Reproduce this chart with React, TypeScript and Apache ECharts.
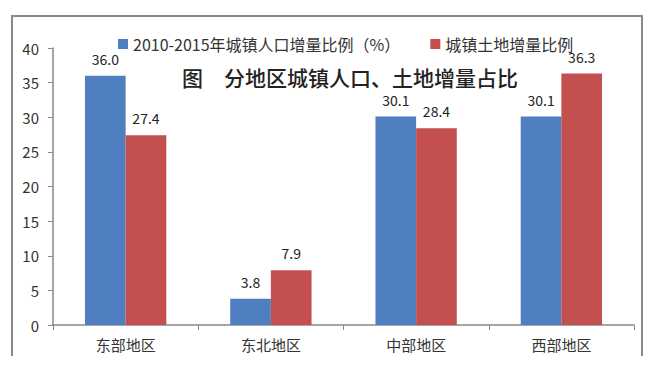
import React, { useEffect, useRef } from "react";
import * as echarts from "echarts";

const categories = ["东部地区", "东北地区", "中部地区", "西部地区"];
const popShare = [36.0, 3.8, 30.1, 30.1];
const landShare = [27.4, 7.9, 28.4, 36.3];
const seriesNames = ["2010-2015年城镇人口增量比例（%）", "城镇土地增量比例"];
const titleText = "图　分地区城镇人口、土地增量占比";

export default function App() {
  const ref = useRef<HTMLDivElement>(null);
  useEffect(() => {
    const chart = echarts.init(ref.current!, null, { renderer: "svg" });
    const font = '"Noto Sans CJK SC", "Noto Sans", sans-serif';
    chart.setOption({
      animation: false,
      backgroundColor: "#ffffff",
      textStyle: { fontFamily: font },
      title: {
        text: titleText,
        left: 182,
        top: 66,
        padding: 0,
        textStyle: { fontSize: 21, lineHeight: 21, fontWeight: 500, color: "#222", fontFamily: font },
      },
      legend: {
        top: 31,
        left: 113,
        itemWidth: 10,
        itemHeight: 10,
        itemGap: 30,
        icon: "rect",
        textStyle: { fontSize: 16, color: "#333", fontFamily: font },
        data: seriesNames,
      },
      grid: { left: 53, right: 20, top: 48, bottom: 53, containLabel: false },
      xAxis: {
        type: "category",
        data: categories,
        axisLine: { lineStyle: { color: "#888", width: 1.5 } },
        axisTick: { show: true, length: 5, lineStyle: { color: "#888" } },
        axisLabel: { fontSize: 15, color: "#333", margin: 12 },
      },
      yAxis: {
        type: "value",
        min: 0,
        max: 40,
        interval: 5,
        splitLine: { show: false },
        axisLine: { show: true, lineStyle: { color: "#888", width: 1.5 } },
        axisTick: { show: true, inside: false, length: 5, lineStyle: { color: "#888" } },
        axisLabel: { fontSize: 15, color: "#333", margin: 14 },
      },
      series: [
        {
          name: seriesNames[0],
          type: "bar",
          data: popShare,
          barGap: "0%",
          barCategoryGap: "44%",
          itemStyle: { color: "#4F7FC0" },
          label: {
            show: true,
            position: "top",
            distance: 10,
            fontSize: 14,
            color: "#222",
            formatter: (p: any) => Number(p.value).toFixed(1),
          },
        },
        {
          name: seriesNames[1],
          type: "bar",
          data: landShare,
          barGap: "0%",
          barCategoryGap: "44%",
          itemStyle: { color: "#C3504F" },
          label: {
            show: true,
            position: "top",
            distance: 10,
            fontSize: 14,
            color: "#222",
            formatter: (p: any) => Number(p.value).toFixed(1),
          },
        },
      ],
      graphic: [
        {
          type: "polyline",
          shape: { points: [[12, 356], [12, 16], [642, 16], [642, 356]] },
          style: { stroke: "#8a8a8a", lineWidth: 2, fill: null },
        },
      ],
    });
    return () => chart.dispose();
  }, []);
  return <div ref={ref} style={{ width: 654, height: 378, position: "absolute", left: 0, top: 0 }} />;
}
